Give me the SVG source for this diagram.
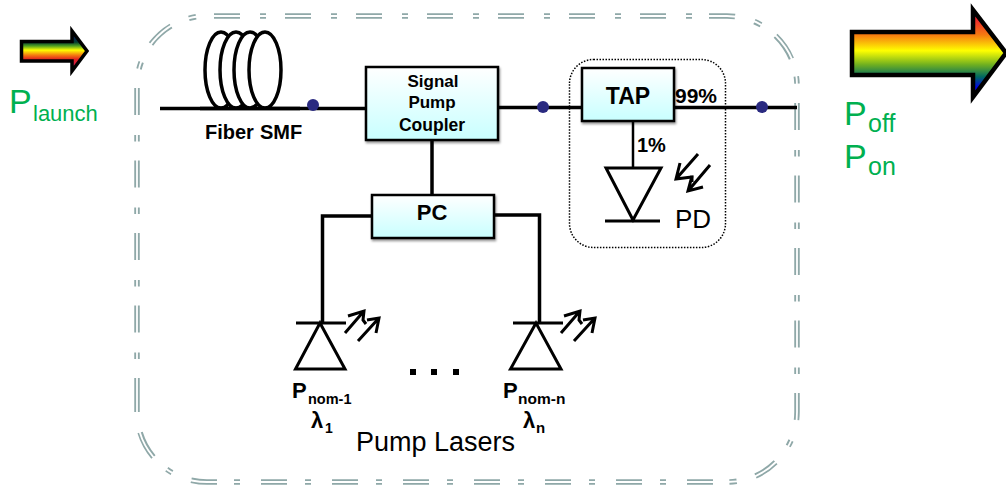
<svg xmlns="http://www.w3.org/2000/svg" width="1006" height="488" viewBox="0 0 1006 488">
<style>
text{font-family:"Liberation Sans",Arial,sans-serif;fill:#000}
.b{font-weight:bold}
.g{fill:#00b050}
.t{fill:none;stroke:#000;stroke-width:3.500}
.m{fill:none;stroke:#000;stroke-width:3}
.th{fill:none;stroke:#000;stroke-width:2.500}
.ar{fill:none;stroke:#000;stroke-width:3}
.dot{fill:#2a2a80}
.box{fill:url(#cy);stroke:#000;stroke-width:2.500;filter:url(#sh)}
.bd{fill:none;stroke:#8fa8a8;stroke-width:5.500}
.h{stroke-dasharray:26 20 6 19}
.hb{stroke-dasharray:26 21 6 18}
.v{stroke-dasharray:27 20 6.500 19}
.bw{fill:none;stroke:#fff;stroke-width:1.800}
</style>
<defs>
<linearGradient id="cy" x1="0" y1="0" x2="0" y2="1"><stop offset="0" stop-color="#fff"/><stop offset="1" stop-color="#c8ffff"/></linearGradient>
<linearGradient id="big" gradientUnits="userSpaceOnUse" x1="0" y1="7" x2="0" y2="100"><stop offset="0" stop-color="#c0109a"/><stop offset=".12" stop-color="#f02030"/><stop offset=".3" stop-color="#f57a10"/><stop offset=".47" stop-color="#ffff00"/><stop offset=".62" stop-color="#70b020"/><stop offset=".75" stop-color="#006a60"/><stop offset=".87" stop-color="#0000f0"/><stop offset="1" stop-color="#7010b0"/></linearGradient>
<linearGradient id="small" gradientUnits="userSpaceOnUse" x1="0" y1="30" x2="0" y2="72"><stop offset="0" stop-color="#100090"/><stop offset=".29" stop-color="#003a30"/><stop offset=".38" stop-color="#50a020"/><stop offset=".48" stop-color="#ffff00"/><stop offset=".6" stop-color="#f57a10"/><stop offset=".7" stop-color="#e02020"/><stop offset="1" stop-color="#c01080"/></linearGradient>
<filter id="sh" x="-10%" y="-10%" width="120%" height="125%"><feDropShadow dx="1" dy="2" stdDeviation="1.200" flood-color="#000" flood-opacity=".4"/></filter>
</defs>
<g id="boundary">
<path class="bd h" d="M214,16 H692"/>
<path class="bd" d="M709,16 H727 A70,70 0 0 1 735,16.500 M754.400,21.600 A70,70 0 0 1 761,24.800 M775.600,35.700 A70,70 0 0 1 791.400,58.700 M796.300,76.300 A70,70 0 0 1 797,83.600"/>
<path class="bd v" d="M797,103 V393"/>
<path class="bd" d="M797,393 V412 A70,70 0 0 1 796.500,420 M791,440.500 A70,70 0 0 1 788.200,446 M775.600,462.300 A70,70 0 0 1 755.500,476 M736.700,481.300 A70,70 0 0 1 729.400,482"/>
<path class="bd hb" d="M713,482 H217"/>
<path class="bd" d="M217,482 H207 A70,70 0 0 1 191.200,480.200 M172,472.600 A70,70 0 0 1 166.800,469.300 M153.400,457 A70,70 0 0 1 140.100,432.500"/>
<path class="bd" d="M137,378 V412"/>
<path class="bd v" d="M137,88 V378"/>
<path class="bd" d="M139,69 A70,70 0 0 1 141.200,62 M151,44 A70,70 0 0 1 171,26 M188.900,18.400 A70,70 0 0 1 196,16.800"/>
<path class="bw" d="M207,16 H727 A70,70 0 0 1 797,86 V412 A70,70 0 0 1 727,482 H207 A70,70 0 0 1 137,412 V86 A70,70 0 0 1 207,16 Z"/>
</g>
<g id="connectors">
<path class="t" d="M160,108.500 H366 M498,107.500 H582 M674,107.500 H797"/>
<path class="t" d="M432,140 V195"/>
<path class="th" d="M633,121 V168"/>
<path class="t" d="M372,216 H322.500 V323 M494,215 H539.500 V323"/>
<circle class="dot" cx="313" cy="105" r="6"/>
<circle class="dot" cx="543" cy="107" r="6"/>
<circle class="dot" cx="762" cy="107" r="6"/>
</g>
<g id="arrow-in">
<path d="M21.500,41.500 H72 V31 L87,51 L72,71 V61 H21.500 Z" fill="url(#small)" stroke="#000" stroke-width="3.500"/>
<text class="g" x="9" y="113" font-size="34">P</text><text class="g" x="33" y="121" font-size="22">launch</text>
</g>
<g id="arrow-out">
<path d="M852,32 H973 V10 L1006,53 L973,97 V75 H852 Z" fill="url(#big)" stroke="#000" stroke-width="4.500"/>
<text class="g" x="844" y="125" font-size="34">P</text><text class="g" x="868" y="132" font-size="25">off</text>
<text class="g" x="844" y="168" font-size="34">P</text><text class="g" x="868" y="175" font-size="25">on</text>
</g>
<g id="fiber">
<g fill="#fff" stroke="#000" stroke-width="3.500">
<ellipse cx="221" cy="70" rx="16" ry="38"/><ellipse cx="236" cy="70" rx="16" ry="38"/><ellipse cx="250" cy="70" rx="16" ry="38"/><ellipse cx="265" cy="70" rx="16" ry="38"/>
</g>
<path class="t" d="M200,108.500 H300"/>
<text class="b" x="205" y="139" font-size="20">Fiber</text><text class="b" x="260" y="139" font-size="20">SMF</text>
</g>
<g id="coupler">
<rect class="box" x="366" y="67" width="132" height="73"/>
<text class="b" text-anchor="middle" x="433" y="87" font-size="17">Signal</text>
<text class="b" text-anchor="middle" x="432" y="108" font-size="17">Pump</text>
<text class="b" text-anchor="middle" x="432" y="131" font-size="17.500">Coupler</text>
</g>
<g id="pc">
<rect class="box" x="372" y="195" width="122" height="43"/>
<text class="b" text-anchor="middle" x="432" y="220" font-size="22">PC</text>
</g>
<g id="tap-group">
<rect x="569.500" y="59.500" width="156" height="188" rx="24" fill="none" stroke="#000" stroke-width="1.500" stroke-dasharray="1.500 1.500"/>
<rect class="box" x="582" y="68" width="92" height="53"/>
<text class="b" text-anchor="middle" x="628" y="104" font-size="23">TAP</text>
<text class="b" x="675" y="103" font-size="21">99%</text>
<text class="b" x="637" y="152" font-size="20">1%</text>
</g>
<g id="pd">
<path class="m" d="M606,168 H661 L633,220 Z M605,221 H660"/>
<path class="ar" d="M698,154 L676,179 M680,163 L676,179 L692,177 L692,182"/>
<path class="ar" d="M710,165 L688,191 M692,176 L688,191 L703,187"/>
<text x="675" y="228" font-size="26">PD</text>
</g>
<g id="laser-1">
<path class="m" d="M296,323 H346 M320,323 L295.500,369 H345 Z"/>
<path class="ar" d="M345,333 L364,311 M348,316 L364,311 L363,320 L366,324"/>
<path class="ar" d="M358,341 L379,318 M367,320 L379,318 L376,333"/>
<text class="b" x="292" y="398" font-size="22">P</text><text class="b" x="308" y="404" font-size="14.500">nom-1</text>
<text class="b" x="311" y="428" font-size="22">λ</text><text class="b" x="325" y="433" font-size="14">1</text>
</g>
<g id="laser-n">
<path class="m" d="M513,323 H563 M536,323 L510.500,369 H561 Z"/>
<path class="ar" d="M561,333 L580,311 M564,316 L580,311 L579,320 L582,324"/>
<path class="ar" d="M574,341 L595,318 M583,320 L595,318 L592,333"/>
<text class="b" x="503" y="398" font-size="22">P</text><text class="b" x="518" y="404" font-size="15.500">nom-n</text>
<text class="b" x="523" y="428" font-size="22">λ</text><text class="b" x="536" y="433" font-size="15">n</text>
</g>
<g id="ellipsis"><rect x="410" y="369" width="6" height="6"/><rect x="431" y="369" width="6" height="6"/><rect x="453" y="369" width="6" height="6"/></g>
<text id="pump-lasers" x="356" y="451" font-size="27">Pump Lasers</text>
</svg>
